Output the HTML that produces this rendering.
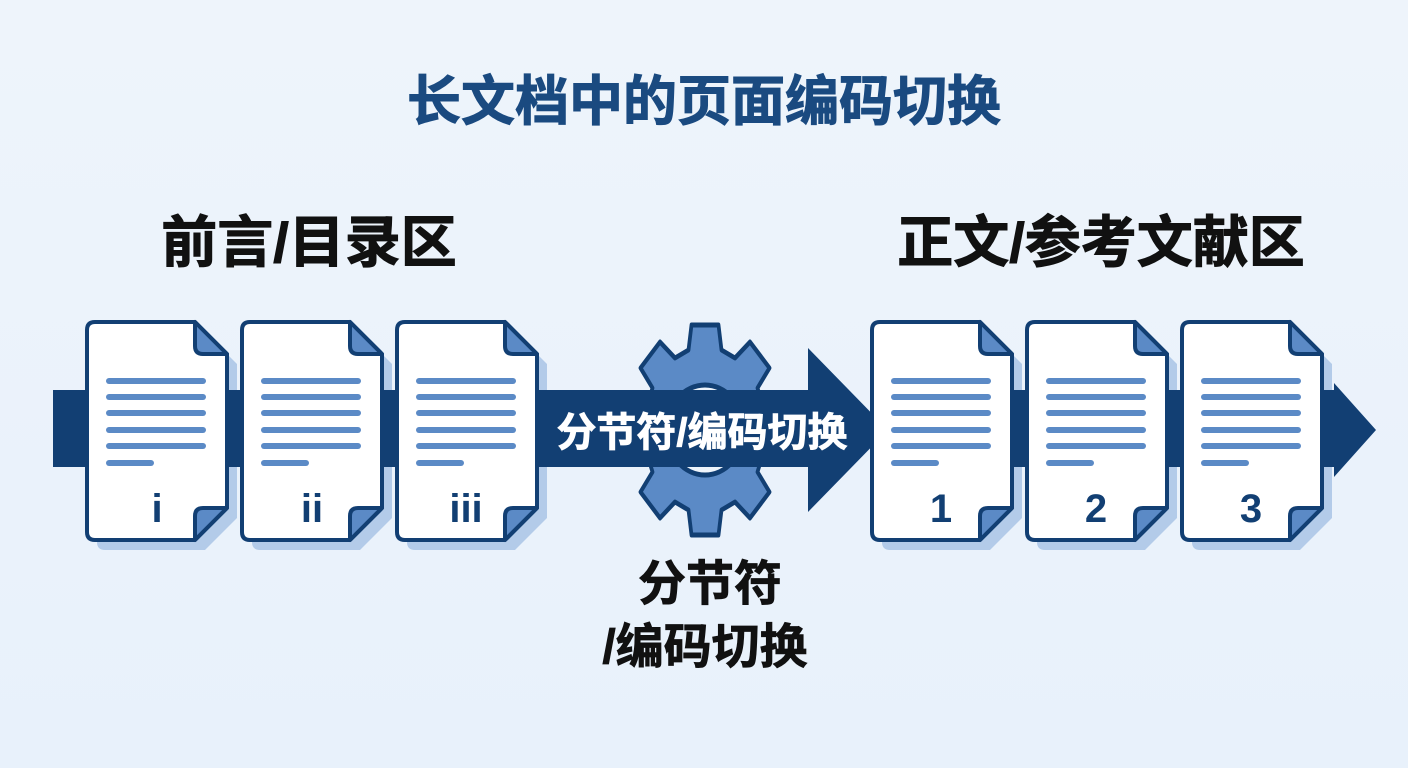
<!DOCTYPE html>
<html><head><meta charset="utf-8"><style>
html,body{margin:0;padding:0;width:1408px;height:768px;overflow:hidden;background:linear-gradient(180deg,#eef4fb,#e8f1fb);}
svg{display:block}
text{font-family:"Liberation Sans","Noto Sans CJK SC",sans-serif;font-weight:bold;}
</style></head><body>
<svg width="1408" height="768" viewBox="0 0 1408 768">
<defs>
<path id="shadow" d="M8,0 L108,0 L140,32 L140,186 L108,218 L8,218 Q0,218 0,210 L0,8 Q0,0 8,0 Z" fill="#b3cbe9"/>
<g id="doc">
  <path d="M8,0 L108,0 L140,32 L140,186 L108,218 L8,218 Q0,218 0,210 L0,8 Q0,0 8,0 Z" fill="#fff" stroke="#123f73" stroke-width="4" stroke-linejoin="round"/>
  <path d="M108,0 L108,24 Q108,32 116,32 L140,32 Z" fill="#5b8ac6" stroke="#123f73" stroke-width="4" stroke-linejoin="round"/>
  <path d="M108,218 L108,194 Q108,186 116,186 L140,186 Z" fill="#5b8ac6" stroke="#123f73" stroke-width="4" stroke-linejoin="round"/>
  <g stroke="#5b8ac6" stroke-width="6" stroke-linecap="round">
    <line x1="22" y1="59" x2="116" y2="59"/><line x1="22" y1="75" x2="116" y2="75"/>
    <line x1="22" y1="91" x2="116" y2="91"/><line x1="22" y1="108" x2="116" y2="108"/>
    <line x1="22" y1="124" x2="116" y2="124"/><line x1="22" y1="141" x2="64" y2="141"/>
  </g>
</g>
</defs>
<text x="704" y="120" font-size="54" fill="#1a4a80" text-anchor="middle" stroke="#1a4a80" stroke-width="1">长文档中的页面编码切换</text>
<text x="309" y="262" font-size="56" fill="#111" text-anchor="middle" stroke="#111" stroke-width="1">前言/目录区</text>
<text x="1101" y="262" font-size="56" fill="#111" text-anchor="middle" stroke="#111" stroke-width="1">正文/参考文献区</text>
<!-- shadows -->
<use href="#shadow" x="97" y="332"/>
<use href="#shadow" x="252" y="332"/>
<use href="#shadow" x="407" y="332"/>
<use href="#shadow" x="882" y="332"/>
<use href="#shadow" x="1037" y="332"/>
<use href="#shadow" x="1192" y="332"/>
<!-- band -->
<rect x="53" y="390" width="760" height="77" fill="#123f73"/>
<polygon points="808,348 888,430 808,512" fill="#123f73"/>
<rect x="880" y="390" width="460" height="77" fill="#123f73"/>
<polygon points="1334,383 1376,430 1334,477" fill="#123f73"/>
<!-- gear -->
<g transform="translate(705,430) scale(0.75,1)">
  <path fill="#5b8ac6" stroke="#123f73" stroke-width="5" stroke-linejoin="round" d="M-18,-105 L18,-105 L22,-80 L40,-72 L60,-88 L86,-62 L70,-42 L78,-22 L103,-18 L103,18 L78,22 L70,42 L86,62 L60,88 L40,72 L22,80 L18,105 L-18,105 L-22,80 L-40,72 L-60,88 L-86,62 L-70,42 L-78,22 L-103,18 L-103,-18 L-78,-22 L-70,-42 L-86,-62 L-60,-88 L-40,-72 L-22,-80 Z"/>
  <ellipse rx="52" ry="45" fill="#eef4fb" stroke="#123f73" stroke-width="5"/>
</g>
<rect x="540" y="390" width="270" height="77" fill="#123f73"/>
<text x="702" y="446" font-size="40" fill="#fff" text-anchor="middle" stroke="#fff" stroke-width="0.8">分节符/编码切换</text>
<use href="#doc" x="87" y="322"/>
<use href="#doc" x="242" y="322"/>
<use href="#doc" x="397" y="322"/>
<use href="#doc" x="872" y="322"/>
<use href="#doc" x="1027" y="322"/>
<use href="#doc" x="1182" y="322"/>
<g font-size="40" fill="#123f73" text-anchor="middle">
<text x="157" y="522">i</text><text x="312" y="522">ii</text><text x="466" y="522">iii</text>
<text x="941" y="522">1</text><text x="1096" y="522">2</text><text x="1251" y="522">3</text>
</g>
<text x="710" y="600" font-size="48" fill="#111" text-anchor="middle" stroke="#111" stroke-width="0.8">分节符</text>
<text x="705" y="663" font-size="48" fill="#111" text-anchor="middle" stroke="#111" stroke-width="0.8">/编码切换</text>
</svg>
</body></html>
